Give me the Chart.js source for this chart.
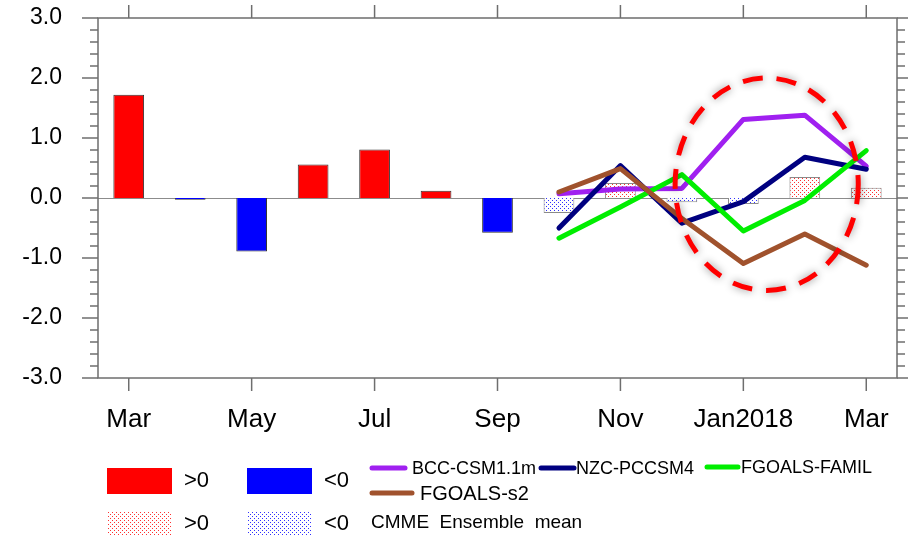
<!DOCTYPE html>
<html>
<head>
<meta charset="utf-8">
<script src="https://cdn.jsdelivr.net/npm/chart.js@4.4.1/dist/chart.umd.min.js"></script>
<style>
  html, body { margin: 0; padding: 0; background: #fff; }
  #chart { display: block; }
</style>
</head>
<body>
<canvas id="chart" width="908" height="535"></canvas>
<script>
// months from Mar 2017 to Mar 2018
const months = ["Mar", "Apr", "May", "Jun", "Jul", "Aug", "Sep", "Oct", "Nov", "Dec", "Jan2018", "Feb", "Mar"];
const yTicks = [-3, -2, -1, 0, 1, 2, 3];

// observed index, Mar..Sep
const observed = [1.72, -0.03, -0.89, 0.56, 0.81, 0.12, -0.58];

// forecasts, Oct..Mar
const ensembleMean = [-0.25, 0.25, -0.07, -0.10, 0.35, 0.17];
const bccCsm = [0.07, 0.15, 0.16, 1.31, 1.38, 0.53];
const nzcPccsm = [-0.50, 0.54, -0.42, -0.06, 0.68, 0.48];
const fgoalsFamil = [-0.67, -0.15, 0.39, -0.55, -0.04, 0.79];
const fgoalsS2 = [0.10, 0.49, -0.34, -1.09, -0.60, -1.12];

const forecastStart = months.length - ensembleMean.length;

function blanks(n) {
    return new Array(n).fill(null);
}

function padForecast(arr) {
    return blanks(forecastStart).concat(arr);
}

const textFont = '"Liberation Sans", Arial, Helvetica, sans-serif';
const canvas = document.getElementById("chart");
const ctx0 = canvas.getContext("2d");

function dotPattern(color) {
    const c = document.createElement("canvas");
    c.width = 4;
    c.height = 4;
    const g = c.getContext("2d");
    g.fillStyle = "#fff";
    g.fillRect(0, 0, 4, 4);
    g.fillStyle = color;
    g.fillRect(0, 0, 1, 1);
    g.fillRect(2, 2, 1, 1);
    return ctx0.createPattern(c, "repeat");
}

const redDots = dotPattern("#ff3030");
const blueDots = dotPattern("#3030ff");

const models = [
    { label: "BCC-CSM1.1m", data: bccCsm, color: "#a020f0" },
    { label: "NZC-PCCSM4", data: nzcPccsm, color: "#000080" },
    { label: "FGOALS-FAMIL", data: fgoalsFamil, color: "#00ee00" },
    { label: "FGOALS-s2", data: fgoalsS2, color: "#a0522d" },
];

// red dashed ring around the winter forecasts
const highlight = { month: 10.38, value: 0.23, halfMonths: 1.49, halfValue: 1.77 };

function line(ctx, x1, y1, x2, y2) {
    ctx.beginPath();
    ctx.moveTo(x1, y1);
    ctx.lineTo(x2, y2);
    ctx.stroke();
}

const framePlugin = {
    id: "frame",
    beforeDatasetsDraw(chart) {
        const ctx = chart.ctx;
        const a = chart.chartArea;
        const y0 = Math.round(chart.scales.y.getPixelForValue(0)) + 0.5;
        ctx.save();
        ctx.strokeStyle = "#8c8c8c";
        ctx.lineWidth = 1.2;
        line(ctx, a.left, y0, a.right, y0);
        ctx.restore();
    },
    afterDatasetsDraw(chart) {
        const ctx = chart.ctx;
        const a = chart.chartArea;
        const xs = chart.scales.x;
        const ys = chart.scales.y;

        // highlight ring
        const cx = xs.getPixelForValue(highlight.month);
        const cy = ys.getPixelForValue(highlight.value);
        const rx = xs.getPixelForValue(highlight.month + highlight.halfMonths) - cx;
        const ry = cy - ys.getPixelForValue(highlight.value + highlight.halfValue);
        ctx.save();
        ctx.strokeStyle = "#ff0000";
        ctx.lineWidth = 5;
        ctx.setLineDash([20, 14]);
        ctx.shadowColor = "rgba(0,0,0,0.45)";
        ctx.shadowBlur = 9;
        ctx.beginPath();
        ctx.ellipse(cx, cy, rx, ry, 0, 0, Math.PI * 2);
        ctx.stroke();
        ctx.restore();

        // frame and tick marks
        ctx.save();
        ctx.strokeStyle = "#6e6e6e";
        ctx.lineWidth = 1.5;
        ctx.strokeRect(a.left, a.top, a.right - a.left, a.bottom - a.top);
        for (let k = -15; k <= 15; k++) {
            const p = ys.getPixelForValue(k / 5);
            const len = k % 5 === 0 ? 16 : 8;
            line(ctx, a.left - len, p, a.left, p);
            line(ctx, a.right, p, a.right + len, p);
        }
        for (let i = 0; i < months.length; i += 2) {
            const p = xs.getPixelForValue(i);
            line(ctx, p, a.bottom, p, a.bottom + 13);
            line(ctx, p, a.top - 13, p, a.top);
        }
        ctx.restore();
    },
    afterDraw(chart) {
        const ctx = chart.ctx;
        ctx.save();
        ctx.textBaseline = "middle";
        ctx.fillStyle = "#000";

        // bar keys
        const keys = [
            { x: 107, y: 468, fill: "#ff0000", text: ">0" },
            { x: 247, y: 468, fill: "#0000ff", text: "<0" },
            { x: 107, y: 511, fill: redDots, text: ">0" },
            { x: 247, y: 511, fill: blueDots, text: "<0" },
        ];
        keys.forEach(function (k) {
            ctx.fillStyle = k.fill;
            ctx.fillRect(k.x, k.y, 65, 26);
            ctx.fillStyle = "#000";
            ctx.font = "22px " + textFont;
            ctx.fillText(k.text, k.x + 77, k.y + 13);
        });
        ctx.font = "19px " + textFont;
        ctx.fillText("CMME  Ensemble  mean", 371, 523);

        // model keys
        const slots = [
            { x1: 372, x2: 405, y: 468, tx: 412, size: 18 },
            { x1: 541, x2: 574, y: 468, tx: 576, size: 18 },
            { x1: 707, x2: 738, y: 467, tx: 741, size: 18 },
            { x1: 372, x2: 412, y: 493, tx: 420, size: 20 },
        ];
        ctx.lineCap = "round";
        models.forEach(function (m, i) {
            const s = slots[i];
            ctx.strokeStyle = m.color;
            ctx.lineWidth = 5;
            line(ctx, s.x1, s.y, s.x2, s.y);
            ctx.font = s.size + "px " + textFont;
            ctx.fillText(m.label, s.tx, s.y + 1);
        });
        ctx.restore();
    },
};

const datasets = models.map(function (m, i) {
    return {
        type: "line",
        label: m.label,
        data: padForecast(m.data),
        borderColor: m.color,
        backgroundColor: m.color,
        borderWidth: 5,
        pointRadius: 0,
        borderCapStyle: "round",
        borderJoinStyle: "round",
        tension: 0,
        order: 4 - i,
    };
});

datasets.push({
    type: "bar",
    label: "CMME Ensemble mean",
    data: padForecast(ensembleMean),
    backgroundColor: function (c) {
        return c.raw > 0 ? redDots : blueDots;
    },
    borderColor: "#8a8a8a",
    borderWidth: 1,
    grouped: false,
    barPercentage: 0.5,
    categoryPercentage: 1.0,
    order: 5,
});

datasets.push({
    type: "bar",
    label: "Observed",
    data: observed.concat(blanks(months.length - observed.length)),
    backgroundColor: function (c) {
        return c.raw > 0 ? "#ff0000" : "#0000ff";
    },
    borderColor: "#333",
    borderWidth: 1,
    grouped: false,
    barPercentage: 0.5,
    categoryPercentage: 1.0,
    order: 6,
});

new Chart(canvas, {
    type: "bar",
    data: {
        labels: months,
        datasets: datasets,
    },
    options: {
        responsive: false,
        animation: false,
        devicePixelRatio: 1,
        layout: {
            padding: { top: 18, right: 11, left: 0, bottom: 0 },
        },
        plugins: {
            legend: { display: false },
            tooltip: { enabled: false },
        },
        scales: {
            x: {
                offset: true,
                grid: { display: false, drawTicks: false },
                border: { display: false },
                afterFit: function (scale) {
                    scale.height = 157;
                    scale.paddingLeft = 0;
                    scale.paddingRight = 0;
                },
                ticks: {
                    autoSkip: false,
                    maxRotation: 0,
                    minRotation: 0,
                    padding: 26,
                    color: "#000",
                    font: { family: textFont, size: 26 },
                    callback: function (value, index) {
                        return index % 2 === 0 ? months[index] : "";
                    },
                },
            },
            y: {
                min: yTicks[0],
                max: yTicks[yTicks.length - 1],
                grid: { display: false, drawTicks: false },
                border: { display: false },
                afterFit: function (scale) {
                    scale.width = 98;
                    scale.paddingTop = 0;
                    scale.paddingBottom = 0;
                },
                afterBuildTicks: function (scale) {
                    scale.ticks = yTicks.map(function (v) {
                        return { value: v };
                    });
                },
                ticks: {
                    padding: 36,
                    color: "#000",
                    font: { family: textFont, size: 23 },
                    callback: function (value) {
                        return value.toFixed(1);
                    },
                },
            },
        },
    },
    plugins: [framePlugin],
});
</script>
</body>
</html>
